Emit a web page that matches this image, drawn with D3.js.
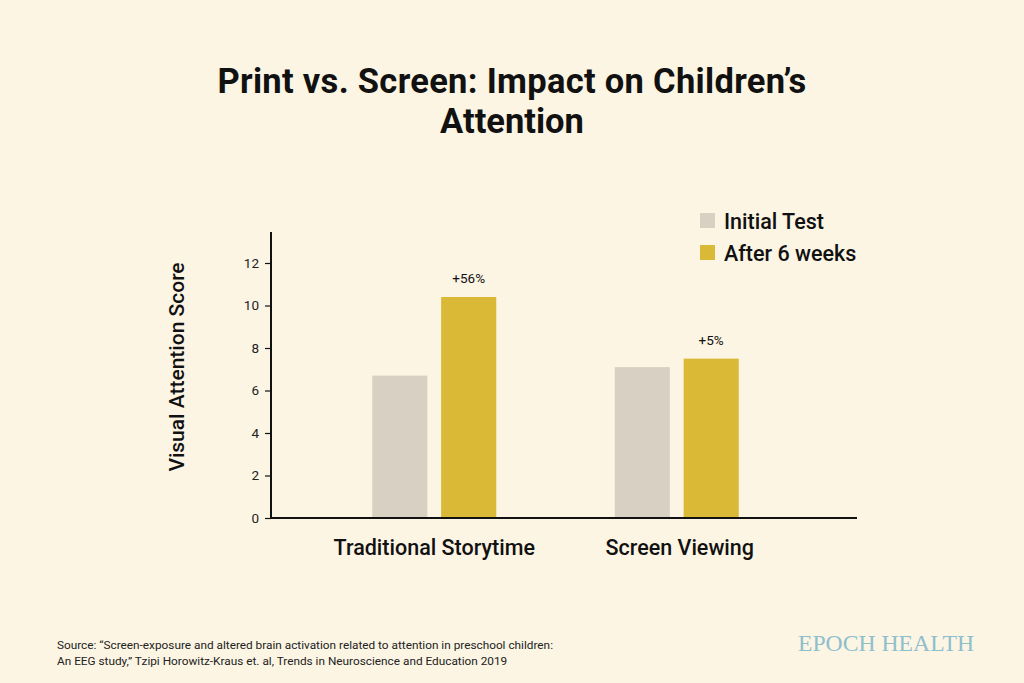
<!DOCTYPE html>
<html>
<head>
<meta charset="utf-8">
<script src="https://cdn.jsdelivr.net/npm/d3@7"></script>
<style>
  html, body { margin: 0; padding: 0; background: #fcf5e4; }
  svg { display: block; }
</style>
</head>
<body>
<svg id="chart" width="1024" height="683"></svg>
<script>
const categories = ["Traditional Storytime", "Screen Viewing"];
const seriesNames = ["Initial Test", "After 6 weeks"];
const initialValues = [6.7, 7.1];
const afterValues = [10.4, 7.5];
const changeLabels = ["+56%", "+5%"];
const yTicks = [0, 2, 4, 6, 8, 10, 12];
const colors = ["#d8d0c2", "#d9b935"];

const svg = d3.select("#chart");
svg.append("rect").attr("width", 1024).attr("height", 683).attr("fill", "#fcf5e4");

const font = "Roboto, 'Liberation Sans', sans-serif";

// Title
const title = svg.append("text")
  .attr("x", 512).attr("text-anchor", "middle")
  .attr("font-family", font).attr("font-weight", 700)
  .attr("font-size", 34.5).attr("fill", "#111");
title.append("tspan").attr("x", 512).attr("y", 93).attr("letter-spacing", 0.3)
  .text("Print vs. Screen: Impact on Children\u2019s");
title.append("tspan").attr("x", 512).attr("y", 133).text("Attention");

// Scales
const y = d3.scaleLinear().domain([0, 12]).range([518, 263]);
const x0 = d3.scaleBand().domain(categories).range([313, 798]).padding(0);
const x1 = d3.scaleBand().domain(seriesNames).range([-62, 62]).paddingInner(0.2);

// Axes
const axisX = 271;
const yAxis = d3.axisLeft(y).tickValues(yTicks).tickSize(6).tickPadding(6).tickSizeOuter(0);
const gy = svg.append("g").attr("transform", `translate(${axisX},0)`).call(yAxis);
gy.select(".domain").remove();
gy.selectAll(".tick line").attr("stroke", "#111").attr("stroke-width", 1.2);
gy.selectAll(".tick text").attr("font-family", font).attr("font-size", 13.5).attr("fill", "#222");
svg.append("line").attr("x1", axisX).attr("x2", axisX).attr("y1", 232).attr("y2", y(0) + 1)
  .attr("stroke", "#111").attr("stroke-width", 2);

// Bars
const data = categories.map((c, i) => ({cat: c, vals: [initialValues[i], afterValues[i]], label: changeLabels[i]}));
const groups = svg.append("g").selectAll("g").data(data).join("g")
  .attr("transform", d => `translate(${x0(d.cat) + x0.bandwidth() / 2},0)`);
groups.selectAll("rect").data(d => d.vals.map((v, j) => ({v, s: seriesNames[j], j})))
  .join("rect")
  .attr("x", d => x1(d.s)).attr("width", x1.bandwidth())
  .attr("y", d => y(d.v)).attr("height", d => y(0) - y(d.v))
  .attr("fill", d => colors[d.j]);
groups.append("text")
  .attr("x", x1(seriesNames[1]) + x1.bandwidth() / 2)
  .attr("y", d => y(d.vals[1]) - 14)
  .attr("text-anchor", "middle").attr("font-family", font).attr("font-size", 13.5).attr("fill", "#111")
  .text(d => d.label);

// X axis line
svg.append("line").attr("x1", axisX).attr("x2", 857).attr("y1", y(0)).attr("y2", y(0))
  .attr("stroke", "#111").attr("stroke-width", 2);

// Category labels
svg.append("g").selectAll("text").data(categories).join("text")
  .attr("x", d => x0(d) + x0.bandwidth() / 2 + (d === categories[1] ? 3 : 0))
  .attr("y", 555).attr("text-anchor", "middle")
  .attr("font-family", font).attr("font-weight", 500).attr("font-size", 21.5).attr("fill", "#111")
  .text(d => d);

// Y axis title
svg.append("text")
  .attr("transform", "translate(184,367) rotate(-90)")
  .attr("text-anchor", "middle").attr("font-family", font).attr("font-weight", 500)
  .attr("font-size", 21).attr("fill", "#111")
  .text("Visual Attention Score");

// Legend
const legend = svg.append("g").selectAll("g").data(seriesNames).join("g")
  .attr("transform", (d, i) => `translate(700,${213 + i * 32})`);
legend.append("rect").attr("width", 15).attr("height", 15).attr("fill", (d, i) => colors[i]);
legend.append("text").attr("x", 24).attr("y", 16)
  .attr("font-family", font).attr("font-weight", 500).attr("font-size", 21.5).attr("fill", "#111")
  .text(d => d);

// Source
const src = svg.append("text").attr("font-family", font).attr("font-size", 11.8).attr("fill", "#222");
src.append("tspan").attr("x", 57).attr("y", 649)
  .text("Source: \u201cScreen-exposure and altered brain activation related to attention in preschool children:");
src.append("tspan").attr("x", 57).attr("y", 665)
  .text("An EEG study,\u201d Tzipi Horowitz-Kraus et. al, Trends in Neuroscience and Education 2019");

// Logo
svg.append("text").attr("x", 798).attr("y", 651)
  .attr("font-family", "'Liberation Serif', 'DejaVu Serif', serif").attr("font-size", 23)
  .attr("fill", "#8fbfcc").attr("textLength", 176).attr("lengthAdjust", "spacingAndGlyphs")
  .text("EPOCH HEALTH");
</script>
</body>
</html>
